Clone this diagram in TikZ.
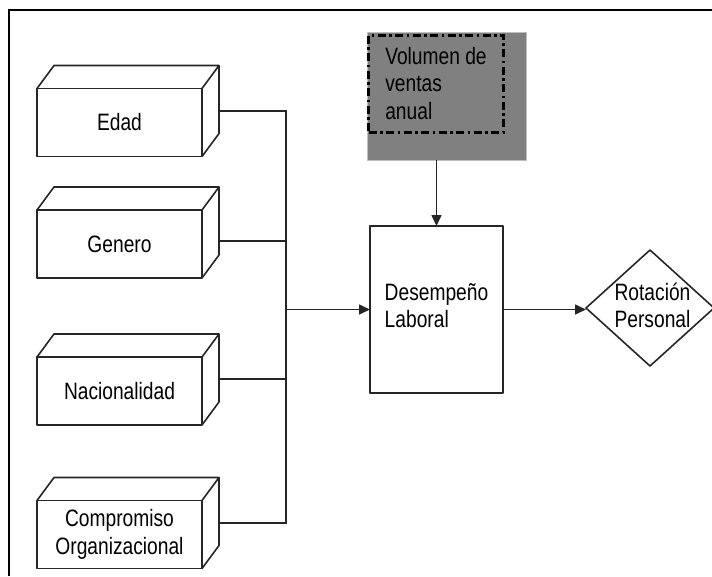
\documentclass[tikz,border=0pt]{standalone}
\usepackage{fontspec}
\setmainfont{Liberation Sans}[FakeStretch=0.81]
\usetikzlibrary{shapes.geometric,arrows.meta}

\definecolor{fondogris}{RGB}{128,128,128}
\definecolor{bordegris}{RGB}{190,190,190}

\tikzset{
    linea/.style={draw=black!85,line width=1.6pt},
    flecha/.style={linea,-{Triangle[length=11pt,width=10pt]}},
    cara/.style={draw=black!85,line width=1.6pt,line join=round}
}

\begin{document}
\begin{tikzpicture}[x=1pt,y=-1pt,font=\fontsize{23.7pt}{27.5pt}\selectfont]
\useasboundingbox (0,0) rectangle (712,576);
\draw[line width=2.5pt] (9,576) -- (9,10) -- (712,10);

% cajas de la izquierda
\begin{scope}[every node/.style={cara,outer sep=0pt,minimum width=165pt,minimum height=68pt,align=center}]
    \node (edad) at (119.5,122.5) {Edad};
    \node (genero) at (119.5,244) {Genero};
    \node (nacion) at (119.5,391) {Nacionalidad};
    \node (compromiso) at (119.5,534.5) {Compromiso\\Organizacional};
\end{scope}

\foreach \n in {edad,genero,nacion,compromiso}
    \draw[cara] (\n.north west) -- ++(17,-23) -| ([shift={(17,-23)}]\n.south east)
        -- (\n.south east) (\n.north east) -- ++(17,-23);

% centro y derecha
\node[fill=fondogris,draw=bordegris,line width=0.8pt,minimum width=159pt,minimum height=128pt] (fondo) at (446.5,96) {};
\node[draw=black,line width=3pt,dash pattern=on 8pt off 3.5pt on 2.5pt off 3.5pt,
      minimum width=135pt,minimum height=97pt,align=left] (volumen) at (436,83.5) {Volumen de\\ventas\\anual};
\node[cara,outer sep=0pt,minimum width=133pt,minimum height=167pt,align=left,text depth=8pt] (desempeno) at (436.5,309.5) {Desempeño\\Laboral};
\node[cara,diamond,outer sep=0pt,inner sep=0pt,minimum width=128pt,minimum height=116pt] (rotacion) at (650,308) {};
\node[align=left] (rotacionTexto) at (652.5,305.5) {Rotación\\Personal};

\coordinate (tronco) at (286,309.5);

% conectores
\draw[linea] ([shift={(17,-11.5)}]edad.east) -| (tronco);
\draw[linea] ([shift={(17,-3)}]genero.east) -| (tronco);
\draw[linea] ([shift={(17,-12)}]nacion.east) -| (tronco);
\draw[linea] ([shift={(17,-11.5)}]compromiso.east) -| (tronco);
\draw[flecha] (tronco) -- (desempeno.west);
\draw[flecha] (fondo.south -| desempeno.north) -- (desempeno.north);
\draw[flecha] (desempeno.east) -- (desempeno.east -| rotacion.west);
\end{tikzpicture}
\end{document}
